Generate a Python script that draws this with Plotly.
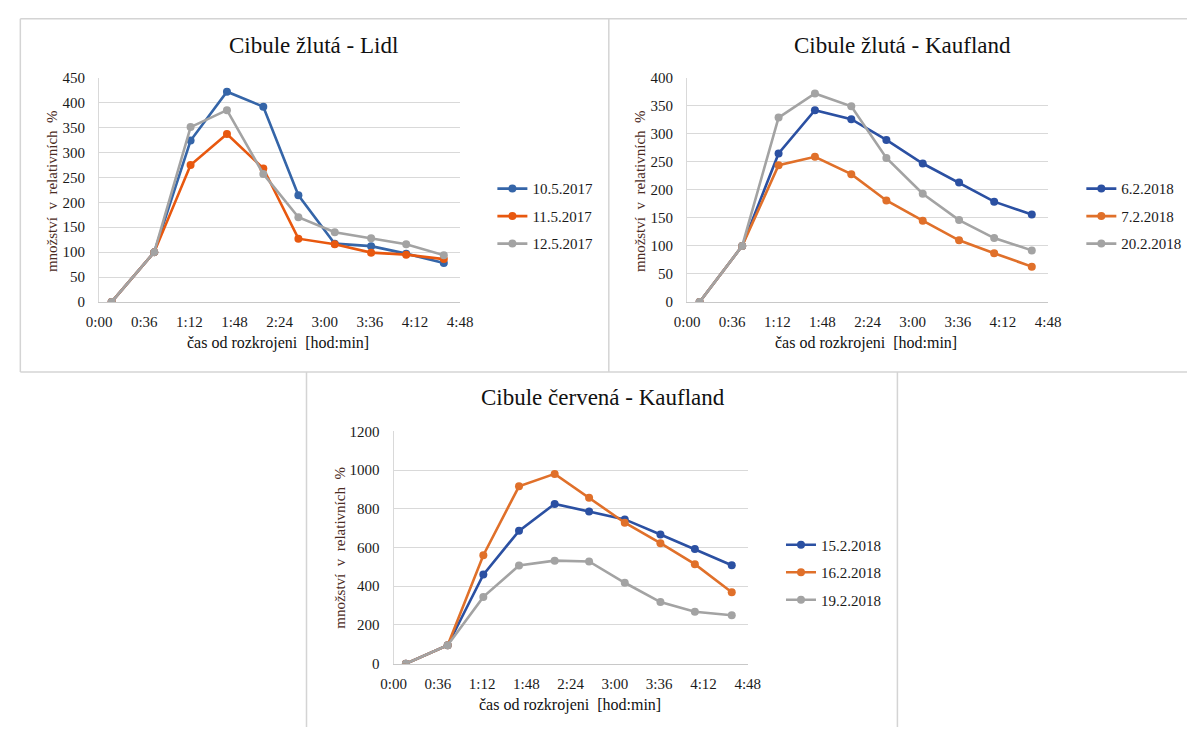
import plotly.graph_objects as go

W, H = 1200, 735

# ---- data ----
cas_min = [10, 44, 73, 102, 131, 159, 188, 217, 245, 275]  # time after cutting, minutes
tick_vals = [0, 36, 72, 108, 144, 180, 216, 252, 288]
tick_text = ["0:00", "0:36", "1:12", "1:48", "2:24", "3:00", "3:36", "4:12", "4:48"]

lidl_title = "Cibule žlutá - Lidl"
lidl_dates = ["10.5.2017", "11.5.2017", "12.5.2017"]
lidl_10_5 = [0, 100, 324, 422, 392, 214, 117, 112, 97, 78]
lidl_11_5 = [0, 100, 275, 337, 268, 127, 116, 99, 95, 86]
lidl_12_5 = [0, 100, 351, 385, 257, 170, 140, 128, 116, 94]
lidl_yticks = [0, 50, 100, 150, 200, 250, 300, 350, 400, 450]

kz_title = "Cibule žlutá - Kaufland"
kz_dates = ["6.2.2018", "7.2.2018", "20.2.2018"]
kz_6_2 = [0, 100, 265, 342, 326, 289, 247, 213, 179, 156]
kz_7_2 = [0, 100, 244, 259, 228, 181, 145, 110, 87, 63]
kz_20_2 = [0, 100, 329, 372, 349, 257, 193, 146, 114, 92]
kz_yticks = [0, 50, 100, 150, 200, 250, 300, 350, 400]

kc_title = "Cibule červená - Kaufland"
kc_dates = ["15.2.2018", "16.2.2018", "19.2.2018"]
kc_15_2 = [0, 95, 460, 686, 825, 786, 745, 667, 592, 508]
kc_16_2 = [0, 95, 560, 916, 980, 857, 728, 622, 514, 369]
kc_19_2 = [0, 95, 345, 507, 532, 528, 418, 318, 268, 250]
kc_yticks = [0, 200, 400, 600, 800, 1000, 1200]

x_title = "čas od rozkrojeni  [hod:min]"
y_title = "množství  v  relativních  %"

FONT = "Liberation Serif"


def px(x):
    return x / W


def py(y):
    return 1 - y / H


fig = go.Figure()

panels = [
    dict(ax="", lg="legend", series=[lidl_10_5, lidl_11_5, lidl_12_5], dates=lidl_dates,
         colors=["#3565A8", "#E8580F", "#A3A3A3"], yticks=lidl_yticks, title=lidl_title,
         box=(88, 457, 71.3, 300.5), tpos=(307, 38), ypos=(40, 187), xpos=(271, 342), lpos=(490, 213)),
    dict(ax="2", lg="legend2", series=[kz_6_2, kz_7_2, kz_20_2], dates=kz_dates,
         colors=["#2B50A2", "#E0702A", "#A3A3A3"], yticks=kz_yticks, title=kz_title,
         box=(689, 1058, 71.3, 300.5), tpos=(909, 38), ypos=(641, 187), xpos=(872, 342), lpos=(1092, 213)),
    dict(ax="3", lg="legend3", series=[kc_15_2, kc_16_2, kc_19_2], dates=kc_dates,
         colors=["#2B50A2", "#E0702A", "#A3A3A3"], yticks=kc_yticks, title=kc_title,
         box=(389, 751, 432.7, 670.3), tpos=(603, 398), ypos=(334, 552), xpos=(569, 713), lpos=(785, 577)),
]

annotations = []
for p in panels:
    xa = "x" + p["ax"]
    ya = "y" + p["ax"]
    for vals, name, col in zip(p["series"], p["dates"], p["colors"]):
        fig.add_trace(go.Scatter(
            x=cas_min, y=vals, name=name, mode="lines+markers",
            line=dict(color=col, width=2.6),
            marker=dict(color=col, size=8, symbol="circle"),
            xaxis=xa, yaxis=ya, legend=p["lg"], legendgroup=p["lg"] + name,
        ))
    x0, x1, y0, y1 = p["box"]
    axis_font = dict(family=FONT, size=15, color="#1a1a1a")
    fig.update_layout(**{
        "xaxis" + p["ax"]: dict(
            domain=[px(x0), px(x1)], anchor=ya, range=[0, 288],
            tickvals=tick_vals, ticktext=tick_text, showgrid=False, zeroline=False,
            showline=True, linecolor="#C8C8C8", linewidth=1.3, ticks="",
            tickfont=axis_font, ticklabelstandoff=6, fixedrange=True,
        ),
        "yaxis" + p["ax"]: dict(
            domain=[py(y1), py(y0)], anchor=xa, range=[0, p["yticks"][-1]],
            tickvals=p["yticks"], showgrid=True, gridcolor="#D9D9D9", gridwidth=1,
            zeroline=False, showline=True, linecolor="#D9D9D9", linewidth=1, ticks="",
            tickfont=axis_font, ticklabelstandoff=10, fixedrange=True,
        ),
        p["lg"]: dict(
            x=px(p["lpos"][0]), y=py(p["lpos"][1]), xanchor="left", yanchor="middle",
            font=dict(family=FONT, size=15, color="#1a1a1a"), bgcolor="rgba(0,0,0,0)",
            tracegroupgap=5, itemwidth=30,
        ),
    })
    annotations.append(dict(text=p["title"], x=px(p["tpos"][0]), y=py(p["tpos"][1]),
                            xref="paper", yref="paper", showarrow=False,
                            xanchor="center", yanchor="middle",
                            font=dict(family=FONT, size=23, color="#111111")))
    annotations.append(dict(text=y_title, x=px(p["ypos"][0]), y=py(p["ypos"][1]),
                            xref="paper", yref="paper", showarrow=False, textangle=-90,
                            xanchor="center", yanchor="middle",
                            font=dict(family=FONT, size=15, color="#4A2A22")))
    annotations.append(dict(text=x_title, x=px(p["xpos"][0]), y=py(p["xpos"][1]),
                            xref="paper", yref="paper", showarrow=False,
                            xanchor="center", yanchor="middle",
                            font=dict(family=FONT, size=16, color="#111111")))

# panel frames (decoration)
bc = "#D4D4D4"
frame_lines = [
    (7.5, 11, 1200, 11),
    (7.5, 11, 7.5, 372),
    (7.5, 372, 1200, 372),
    (609, 11, 609, 372),
    (300, 372, 300, 735),
    (904, 372, 904, 735),
]
shapes = [dict(type="line", xref="paper", yref="paper",
               x0=px(a), y0=py(b), x1=px(c), y1=py(d),
               line=dict(color=bc, width=1.5)) for a, b, c, d in frame_lines]

fig.update_layout(
    width=W, height=H, margin=dict(l=0, r=0, t=0, b=0),
    paper_bgcolor="white", plot_bgcolor="white",
    annotations=annotations, shapes=shapes, showlegend=True,
    font=dict(family=FONT),
)

fig.write_html("out.html")
